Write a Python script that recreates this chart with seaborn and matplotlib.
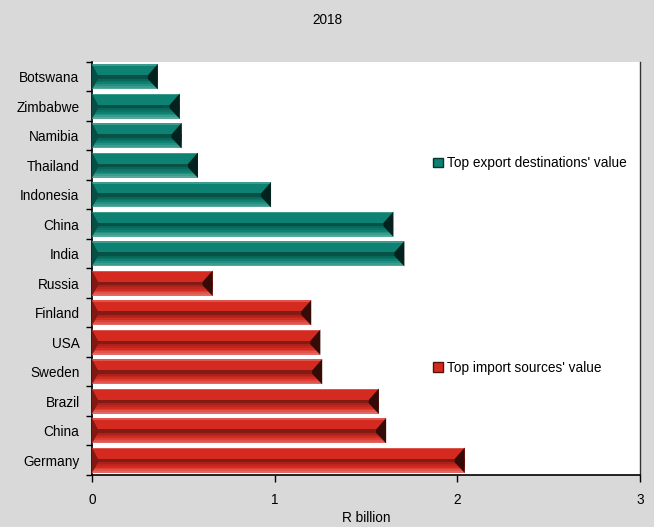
import numpy as np
import pandas as pd
import matplotlib.pyplot as plt
import seaborn as sns
from matplotlib.patches import Polygon, Patch
from matplotlib.colors import to_rgb

# data (R billion, 2018)
countries = ["Botswana", "Zimbabwe", "Namibia", "Thailand", "Indonesia", "China", "India",
             "Russia", "Finland", "USA", "Sweden", "Brazil", "China", "Germany"]
values = [0.36, 0.48, 0.49, 0.58, 0.98, 1.65, 1.71,
          0.66, 1.20, 1.25, 1.26, 1.57, 1.61, 2.04]
groups = ["Top export destinations' value"] * 7 + ["Top import sources' value"] * 7

colors = {"Top export destinations' value": "#0d8272",
          "Top import sources' value": "#d52a20"}


def shade(c, f):
    r = np.array(to_rgb(c)[:3])
    if f < 1:
        return tuple(r * f)
    return tuple(r + (1 - r) * (f - 1))


def main():
    sns.set_style("white")
    plt.rcParams['font.family'] = ['Liberation Sans', 'DejaVu Sans']
    plt.rcParams['text.color'] = 'black'
    plt.rcParams['xtick.color'] = 'black'
    plt.rcParams['ytick.color'] = 'black'
    plt.rcParams['axes.labelcolor'] = 'black'
    fs = 9.8

    df = pd.DataFrame({"key": [f"{c}_{i}" for i, c in enumerate(countries)],
                       "value": values, "group": groups})

    fig = plt.figure(figsize=(6.54, 5.27), dpi=100)
    fig.patch.set_facecolor("#d9d9d9")
    ax = fig.add_axes([0.1407, 0.0987, 0.838, 0.7837])
    ax.set_facecolor("white")

    sns.barplot(data=df, y="key", x="value", hue="group", palette=colors, saturation=1,
                dodge=False, width=0.86, legend=False, ax=ax, orient="h")

    # bevel effect on each bar, based on the bar geometry
    d = 0.055
    for p in list(ax.patches):
        x0, y0 = p.get_x(), p.get_y()
        w, h = p.get_width(), p.get_height()
        if w <= 0:
            continue
        base = p.get_facecolor()
        x1 = x0 + w
        top, bot = y0, y0 + h  # axis is inverted: y0 is the visual top
        m1, m2 = top + 0.45 * h, top + 0.58 * h
        p.set_edgecolor("none")
        # top highlight line
        ax.add_patch(Polygon([(x0, top), (x1, top), (x1, top + 0.06 * h), (x0, top + 0.06 * h)],
                             closed=True, fc=shade(base, 1.2), ec="none", zorder=3))
        # dark middle band
        ax.add_patch(Polygon([(x0, m1), (x1, m1), (x1, m2), (x0, m2)],
                             closed=True, fc=shade(base, 0.62), ec="none", zorder=3))
        # lower gradient
        n = 6
        for k in range(n):
            ya = m2 + (bot - m2) * k / n
            yb = m2 + (bot - m2) * (k + 1) / n
            ax.add_patch(Polygon([(x0, ya), (x1, ya), (x1, yb), (x0, yb)], closed=True,
                                 fc=shade(base, 0.8 + 0.5 * k / (n - 1)),
                                 ec="none", zorder=3))
        # right bevel
        ax.add_patch(Polygon([(x1, top), (x1 - d, m1), (x1 - d, m2), (x1, bot)],
                             closed=True, fc=shade(base, 0.25), ec="none", zorder=4))
        # left bevel
        ax.add_patch(Polygon([(x0, top), (x0 + d * 0.6, m1), (x0 + d * 0.6, m2), (x0, bot)],
                             closed=True, fc=shade(base, 0.6), ec="none", zorder=4))

    n = len(countries)
    ax.set_xlim(0, 3)
    ax.set_ylim(n - 0.5, -0.5)
    ax.set_xticks([0, 1, 2, 3])
    ax.set_xticklabels(["0", "1", "2", "3"], fontsize=fs)
    ax.set_yticks(range(n))
    ax.set_yticklabels(countries, fontsize=fs)
    ax.set_yticks(np.arange(-0.5, n), minor=True)
    ax.tick_params(axis="y", which="major", length=0, pad=9)
    ax.tick_params(axis="y", which="minor", length=4, width=1, color="black", direction="out", left=True)
    ax.tick_params(axis="x", which="major", length=5, width=1, color="black", direction="out", bottom=True, pad=8)
    ax.set_xlabel("R billion", fontsize=fs, labelpad=3)
    ax.set_ylabel("")

    for s in ["left", "bottom"]:
        ax.spines[s].set_color("black")
        ax.spines[s].set_linewidth(1.2)
    ax.spines["right"].set_color("#333333")
    ax.spines["right"].set_linewidth(1)
    ax.spines["top"].set_visible(False)

    fig.text(0.5, 0.962, "2018", ha="center", va="center", fontsize=fs)

    exp_name, imp_name = list(colors)
    leg1 = ax.legend(handles=[Patch(fc=colors[exp_name], ec=shade(colors[exp_name], 0.4), label=exp_name)],
                     loc="center left", bbox_to_anchor=(0.6, 0.755), frameon=False,
                     handlelength=0.7, handleheight=0.7, handletextpad=0.3, fontsize=fs)
    ax.add_artist(leg1)
    ax.legend(handles=[Patch(fc=colors[imp_name], ec=shade(colors[imp_name], 0.4), label=imp_name)],
              loc="center left", bbox_to_anchor=(0.6, 0.26), frameon=False,
              handlelength=0.7, handleheight=0.7, handletextpad=0.3, fontsize=fs)

    fig.savefig("out.png", dpi=100, facecolor=fig.get_facecolor())


if __name__ == "__main__":
    main()
